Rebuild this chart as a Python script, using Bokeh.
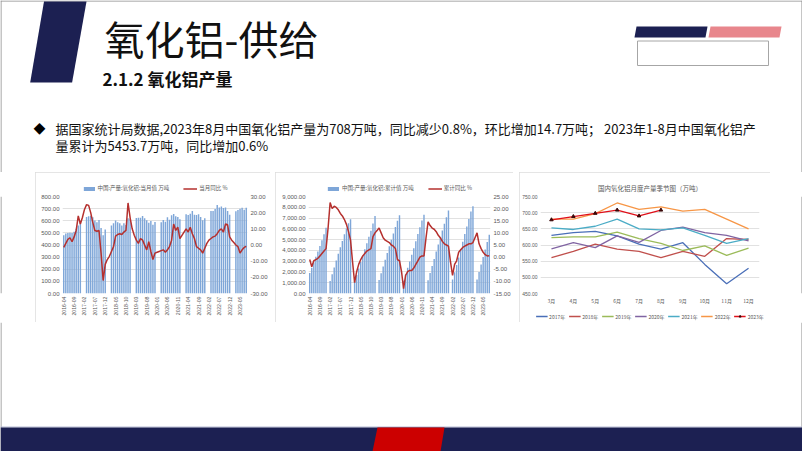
import math
from bokeh.plotting import figure
from bokeh.layouts import column, row
from bokeh.models import (Range1d, LinearAxis, SingleIntervalTicker, FixedTicker,
                          NumeralTickFormatter, Legend, LegendItem, Spacer, FactorRange,
                          ColumnDataSource, CustomJS)
from bokeh.events import DocumentReady
from bokeh.document import Document
from bokeh.core.properties import value
from bokeh.embed import file_html
from bokeh.resources import INLINE

# ---------------- data ----------------
month_labels = [f"{y}-{m:02d}" for y in range(2016, 2024) for m in range(1, 13)][3:92]
tick_labels = ["2016-04", "2016-09", "2017-02", "2017-07", "2017-12", "2018-05", "2018-10",
               "2019-03", "2019-08", "2020-01", "2020-06", "2020-11", "2021-04", "2021-09",
               "2022-02", "2022-07", "2022-12", "2023-05"]
N = None
monthly_output = [
    480, 495, 500, 502, 498, 510, 535, 560, 590,
    N, N, 630, 638, 642, 628, 603, 587, 607, 540, 480, 528,
    N, N, 561, 580, 603, 587, 580, 561, 580, 565, 620, 617,
    N, N, 623, 625, 625, 640, 620, 605, 583, 597, 568, 590,
    N, N, 588, 607, 592, 628, 608, 645, 655, 638, 630, 613,
    N, N, 653, 648, 658, 680, 650, 647, 653, 630, 605, 620,
    N, N, 680, 680, 697, 730, 710, 718, 705, 710, 680, 650,
    N, N, 678, 688, 698, 708, 690, 708]
monthly_yoy = [
    -1.5, 1, 3.5, 4.5, 2, 5, 9, 18, 13,
    17, 22, 25, 24.5, 20, 14, 9, 8.5, 9, -5, -22, -12,
    -9, -7, -4, -1, 5.5, 6.5, 7, 6.5, 8, 9, 26, 17,
    10, 6, 3, 1, 4, 3, 0, -3, 2, -4, -9, -5,
    -4.5, -4, -3.5, -3, -4.5, -3, -1, 3, 13, 9, 11, 4,
    6, 8, 10, 8, 11, 7, 4, -1, -2, -3, -5, -2,
    1, 3, 4, 5, 5.5, 7, 9, 10, 8, 13, 12.5, 5,
    3, 1.5, 0, -1, -5, -3, -1.5, -0.8]
cum_output = [
    1900, 2400, 2900, 3400, 3900, 4400, 4950, 5500, 6100,
    N, 1150, 1780, 2420, 3060, 3690, 4290, 4880, 5490, 6030, 6510, 6900,
    N, 1150, 1720, 2310, 2920, 3510, 4100, 4670, 5260, 5830, 6500, 7200,
    N, 1250, 1870, 2500, 3120, 3760, 4380, 4990, 5570, 6170, 6740, 7250,
    N, 1180, 1770, 2380, 2970, 3600, 4210, 4850, 5510, 6150, 6780, 7300,
    N, 1240, 1900, 2550, 3210, 3890, 4540, 5190, 5840, 6470, 7080, 7700,
    N, 1290, 1970, 2650, 3350, 4080, 4790, 5510, 6210, 6920, 7600, 8100,
    N, 1310, 1990, 2680, 3380, 4080, 4770, 5450]
cum_yoy = [
    -1, -4, -1.5, -1, -0.5, 0.5, 1.5, 2.5, 3.5,
    12, 22.5, 20, 21, 20.5, 19.5, 18, 17, 15.5, 13.5, 10.5, 7,
    -2, -10.5, -6, -3, -1, 0.5, 1.5, 2.5, 3, 3.5, 8.5, 10,
    11, 12, 10, 8, 7, 6.5, 6, 5, 4.5, 3.5, -1, -1.5,
    -6, -13, -7.5, -6, -5.5, -5.5, -4.5, -3, -1.5, 0, 0.5, 0.5,
    8, 14.5, 13, 12, 11.5, 10.5, 9, 8, 6.5, 5.5, 5, 4.5,
    -2, -7.5, -3, -1.5, 2, 3, 4, 4.5, 5, 5.5, 5.5, 6,
    8, 10, 5.5, 3.5, 2, 1, 0.5, 0.6]

season_months = ["3月", "4月", "5月", "6月", "7月", "8月", "9月", "10月", "11月", "12月"]
s2017 = [630, 638, 642, 628, 603, 587, 607, 540, 480, 528]
s2018 = [561, 580, 603, 587, 580, 561, 580, 565, 620, 617]
s2019 = [623, 625, 625, 640, 620, 605, 583, 597, 568, 590]
s2020 = [588, 607, 592, 628, 608, 645, 655, 638, 630, 613]
s2021 = [653, 648, 658, 680, 650, 647, 653, 630, 605, 620]
s2022 = [680, 680, 697, 730, 710, 718, 705, 710, 680, 650]
s2023 = [678, 688, 698, 708, 690, 708]
season_names = ["2017年", "2018年", "2019年", "2020年", "2021年", "2022年", "2023年"]
season_colors = ["#4a6fb8", "#c0504d", "#9bbb59", "#8064a2", "#4bacc6", "#f79646", "#e0101a"]

CJK = "Noto Sans CJK SC"
NAVY = "#1c2052"
GRAY_TXT = "#595959"
GRID = "#d9d9d9"
COMMON = dict(output_backend="svg", toolbar_location=None, sizing_mode="fixed")
BOX = {"outline": "1px solid #dcdcdc", "outline-offset": "-1px"}


def style_axis(ax, size="6px"):
    ax.axis_line_color = None
    ax.major_tick_line_color = None
    ax.minor_tick_line_color = None
    ax.major_tick_out = 0
    ax.major_tick_in = 0
    ax.minor_tick_out = 0
    ax.minor_tick_in = 0
    ax.major_label_text_font_size = size
    ax.major_label_text_color = GRAY_TXT
    ax.major_label_text_font = "Liberation Sans"
    ax.major_label_standoff = 3


def dual_chart(width, bars, line, bar_name, line_name, ymax, yint, lfmt,
               pmin, pmax, pint, bl, br):
    n = len(bars)
    p = figure(width=width, height=150, x_range=Range1d(-0.6, n - 0.4),
               y_range=Range1d(0, ymax), min_border_left=bl, min_border_right=br,
               min_border_top=24, min_border_bottom=29, outline_line_color=None,
               styles=BOX, **COMMON)
    p.extra_y_ranges = {"pct": Range1d(pmin, pmax)}
    src = ColumnDataSource(dict(x=list(range(n)),
                                bar=[float("nan") if v is None else v for v in bars],
                                pct=line))
    vb = p.vbar(x="x", top="bar", width=0.7, source=src, fill_color="#7ea6d8",
                line_color=None)
    ln = p.line(x="x", y="pct", source=src, y_range_name="pct", line_color="#b5302e",
                line_width=1.5)
    p.xgrid.visible = False
    p.ygrid.grid_line_color = GRID
    p.ygrid.grid_line_width = 0.8
    p.yaxis.ticker = SingleIntervalTicker(interval=yint)
    p.yaxis.formatter = NumeralTickFormatter(format=lfmt)
    ra = LinearAxis(y_range_name="pct", ticker=SingleIntervalTicker(interval=pint),
                    formatter=NumeralTickFormatter(format="0.00"))
    p.add_layout(ra, "right")
    p.xaxis.ticker = FixedTicker(ticks=[month_labels.index(t) for t in tick_labels])
    p.xaxis.major_label_overrides = {month_labels.index(t): t for t in tick_labels}
    p.xaxis.major_label_orientation = math.pi / 2
    for ax in p.yaxis:
        style_axis(ax)
    style_axis(p.xaxis[0], "5.2px")
    leg = Legend(items=[LegendItem(label=bar_name, renderers=[vb]),
                        LegendItem(label=line_name, renderers=[ln])],
                 orientation="horizontal", location="center",
                 label_text_font=CJK, label_text_font_size="5.5px",
                 label_text_color=GRAY_TXT, glyph_width=14, glyph_height=5,
                 label_height=6, label_standoff=2, spacing=14, padding=2, margin=5,
                 border_line_color=None, background_fill_alpha=0)
    p.add_layout(leg, "above")
    return p


c1 = dual_chart(235, monthly_output, monthly_yoy, "中国:产量:氧化铝:当月值 万吨", "当月同比 %",
                800, 100, "0.00", -30, 30, 10, 27, 20)
c2 = dual_chart(238, cum_output, cum_yoy, "中国:产量:氧化铝:累计值 万吨", "累计同比 %",
                9000, 1000, "0,0.00", -15, 25, 5, 33, 21)

# seasonal chart
c3 = figure(width=251, height=150, x_range=FactorRange(*season_months),
            y_range=Range1d(450, 750), min_border_left=20, min_border_right=11,
            min_border_top=22, min_border_bottom=29, outline_line_color=None,
            title="国内氧化铝月度产量季节图（万吨）", styles=BOX, **COMMON)
c3.title.align = "center"
c3.title.text_font = CJK
c3.title.text_font_size = "6.5px"
c3.title.text_font_style = "normal"
c3.title.text_color = GRAY_TXT
c3.title.standoff = 8
c3.xgrid.visible = False
c3.ygrid.grid_line_color = GRID
c3.ygrid.grid_line_width = 0.8
c3.yaxis.ticker = SingleIntervalTicker(interval=50)
c3.yaxis.formatter = NumeralTickFormatter(format="0.00")
style_axis(c3.yaxis[0], "5px")
style_axis(c3.xaxis[0], "5px")
c3.xaxis.major_label_text_font = CJK
items = []
for name, col, vals in zip(season_names, season_colors,
                           [s2017, s2018, s2019, s2020, s2021, s2022, s2023]):
    r = c3.line(x=season_months[:len(vals)], y=vals, line_color=col, line_width=1.3)
    rs = [r]
    if name == "2023年":
        m = c3.scatter(x=season_months[:len(vals)], y=vals, marker="triangle", size=3.5,
                       fill_color="#3a0808", line_color="#3a0808")
        rs.append(m)
    items.append(LegendItem(label=name, renderers=rs))
leg3 = Legend(items=items, orientation="horizontal", location="center",
              label_text_font=CJK, label_text_font_size="5px", label_text_color=GRAY_TXT,
              glyph_width=12, glyph_height=5, label_height=5, label_width=14,
              label_standoff=2, spacing=3, padding=1, margin=2, border_line_color=None,
              background_fill_alpha=0)
c3.add_layout(leg3, "below")

# ---------------- slide decorations ----------------
def canvas(w, h, y0, y1):
    f = figure(width=w, height=h, x_range=Range1d(0, w), y_range=Range1d(y1, y0),
               x_axis_type=None, y_axis_type=None, min_border=0, outline_line_color=None,
               **COMMON)
    f.grid.visible = False
    return f


head = canvas(802, 172, 0, 172)
head.segment(x0=[0.5, 801.5, 0], y0=[0, 0, 0.5], x1=[0.5, 801.5, 802], y1=[172, 172, 0.5],
             line_color="#8c8c8c", line_width=1)
head.patch(x=[43.5, 86, 71.6, 29.7], y=[1, 1, 82, 82], fill_color=NAVY, line_color=None)
head.patch(x=[636, 707, 705, 634], y=[26, 26, 37, 37], fill_color=NAVY, line_color=None)
head.patch(x=[710, 781, 779, 708], y=[26, 26, 37, 37], fill_color="#e8868c", line_color=None)
head.quad(left=637, right=768, top=40.5, bottom=65, fill_color="white",
          line_color="#a6a6a6", line_width=1)
head.text(x=[104], y=[37], text=["氧化铝-供给"], text_font=value(CJK), text_font_size="40px",
          text_baseline="middle", text_color="#111111")
head.text(x=[102], y=[78], text=["2.1.2 氧化铝产量"], text_font=value(CJK),
          text_font_size="17px", text_font_style="bold", text_baseline="middle",
          text_color="#111111")
head.text(x=[33], y=[128], text=["◆"], text_font=value(CJK), text_font_size="12px",
          text_baseline="middle", text_color="#000000")
head.text(x=[55, 55], y=[128, 145],
          text=["据国家统计局数据,2023年8月中国氧化铝产量为708万吨，同比减少0.8%，环比增加14.7万吨； 2023年1-8月中国氧化铝产",
                "量累计为5453.7万吨，同比增加0.6%"],
          text_font=value(CJK), text_font_size="13px", text_baseline="middle",
          text_color="#111111")

lsp = canvas(35, 150, 0, 150)
lsp.segment(x0=[0.5], y0=[0], x1=[0.5], y1=[150], line_color="#8c8c8c", line_width=1)
rsp = canvas(32, 150, 0, 150)
rsp.segment(x0=[31.5], y0=[0], x1=[31.5], y1=[150], line_color="#8c8c8c", line_width=1)

foot = canvas(802, 129, 322, 451)
foot.segment(x0=[0.5, 801.5], y0=[322, 322], x1=[0.5, 801.5], y1=[451, 451],
             line_color="#8c8c8c", line_width=1)
foot.segment(x0=[0], y0=[426.5], x1=[802], y1=[426.5], line_color="#b4b9d4", line_width=1)
foot.quad(left=0, right=802, top=427, bottom=451, fill_color=NAVY, line_color=None)
foot.patch(x=[377, 444, 440, 372], y=[427, 427, 451, 451], fill_color="#cc0000",
           line_color=None)

mid = row(lsp, c1, Spacer(width=5, height=150), c2, Spacer(width=6, height=150), c3, rsp)
layout = column(head, mid, foot)

# re-map glyphs once the page layout has settled
charts = [c1, c2, c3]
sources = [r.data_source for p in charts for r in p.renderers]
ranges = [c1.y_range, c2.y_range, c3.y_range, c1.x_range, c2.x_range,
          c1.extra_y_ranges["pct"], c2.extra_y_ranges["pct"]]
kick = CustomJS(args=dict(sources=sources, ranges=ranges), code="""
function kick() {
  for (const r of ranges) { const e = r.end; r.end = e + 1e-9; r.end = e; }
  for (const s of sources) { s.change.emit(); }
}
setTimeout(kick, 30); setTimeout(kick, 200); setTimeout(kick, 600);
""")
doc = Document()
doc.add_root(layout)
doc.js_on_event(DocumentReady, kick)

open("out.html", "w").write(file_html(doc, INLINE))
